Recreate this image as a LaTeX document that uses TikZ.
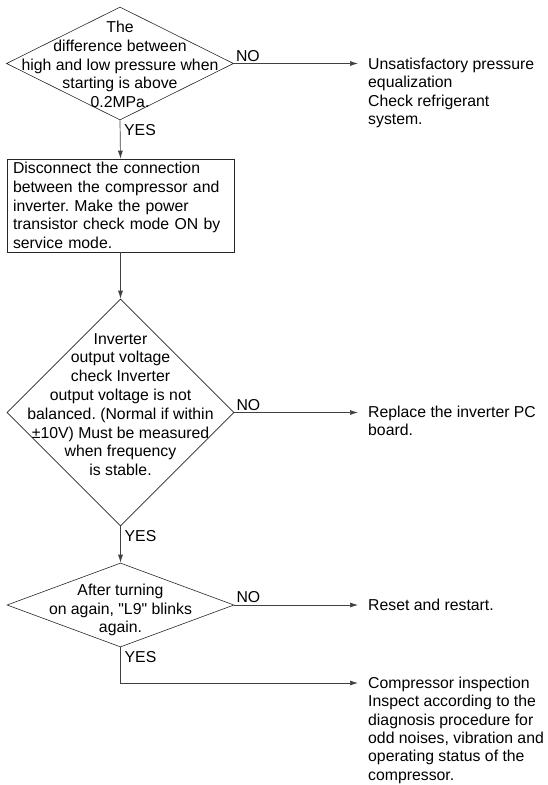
\documentclass[tikz,border=0pt]{standalone}
\usepackage{fontspec}
\setmainfont{Liberation Sans}
\usetikzlibrary{shapes.geometric,arrows.meta}
\frenchspacing

\begin{document}
\begin{tikzpicture}[x=1pt, y=-1pt, >={Latex[length=8pt,width=5pt]},
    txt/.style={font=\fontsize{15.8}{18.8}\selectfont},
    decision/.style={diamond, draw=black!85, line width=0.6pt, inner sep=0pt, minimum width=227pt},
    dtext/.style={txt, align=center, inner sep=0pt},
    procbox/.style={txt, draw=black!85, line width=0.6pt, align=left, text width=215pt,
        inner xsep=6pt, inner ysep=0pt, minimum height=93pt},
    result/.style={txt, anchor=north west, align=left, inner xsep=10pt, inner ysep=0pt,
        font=\fontsize{15.8}{18.3}\selectfont},
    flow/.style={draw=black!75, line width=0.7pt},
    nolbl/.style={txt, anchor=south west, inner sep=2pt},
    yeslbl/.style={txt, anchor=north west, inner sep=2pt, xshift=2pt, yshift=-2pt}]
    \useasboundingbox (0,0) rectangle (548,785);

    % Decision 1 (pressure difference)
    \node[decision, minimum height=113pt] (d1) at (120,63.5) {};
    \node[dtext, yshift=-1pt] (d1t) at (d1) {The\\difference between\\high and low pressure when\\starting is above\\0.2MPa.};
    \node[result] (r1) at (358,58) {Unsatisfactory pressure\\equalization\\Check refrigerant\\system.};
    \draw[flow, ->] (d1.east) -- (d1.east -| r1.west);
    \node[nolbl] (d1no) at (d1.east) {NO};

    % Process box
    \node[procbox] (b1) at (120.5,205.5) {Disconnect the connection\\between the compressor and\\inverter. Make the power\\transistor check mode ON by\\service mode.};
    \draw[flow, ->] (d1.south) -- (b1.north);
    \node[yeslbl] (d1yes) at (d1.south) {YES};

    % Decision 2 (inverter output voltage)
    \node[decision, minimum height=227pt] (d2) at (120.5,412.5) {};
    \node[dtext, yshift=8pt] (d2t) at (d2) {Inverter\\output voltage\\check Inverter\\output voltage is not\\balanced. (Normal if within\\±10V) Must be measured\\when frequency\\is stable.};
    \draw[flow, ->] (b1.south) -- (d2.north);
    \node[result] (r2) at (358,406) {Replace the inverter PC\\board.};
    \draw[flow, ->] (d2.east) -- (d2.east -| r2.west);
    \node[nolbl] (d2no) at (d2.east) {NO};

    % Decision 3 (L9 blinks)
    \node[decision, minimum height=84pt] (d3) at (120.5,605) {};
    \node[dtext, yshift=-5pt] (d3t) at (d3) {After turning\\on again, \textquotedbl L9\textquotedbl\ blinks\\again.};
    \draw[flow, ->] (d2.south) -- (d3.north);
    \node[yeslbl] (d2yes) at (d2.south) {YES};
    \node[result] (r3) at (358,599) {Reset and restart.};
    \draw[flow, ->] (d3.east) -- (d3.east -| r3.west);
    \node[nolbl] (d3no) at (d3.east) {NO};

    % Compressor inspection
    \node[result] (r4) at (358,677) {Compressor inspection\\Inspect according to the\\diagnosis procedure for\\odd noises, vibration and\\operating status of the\\compressor.};
    \draw[flow, ->] (d3.south) |- ([yshift=-6pt]r4.north west);
    \node[yeslbl] (d3yes) at (d3.south) {YES};
\end{tikzpicture}
\end{document}
